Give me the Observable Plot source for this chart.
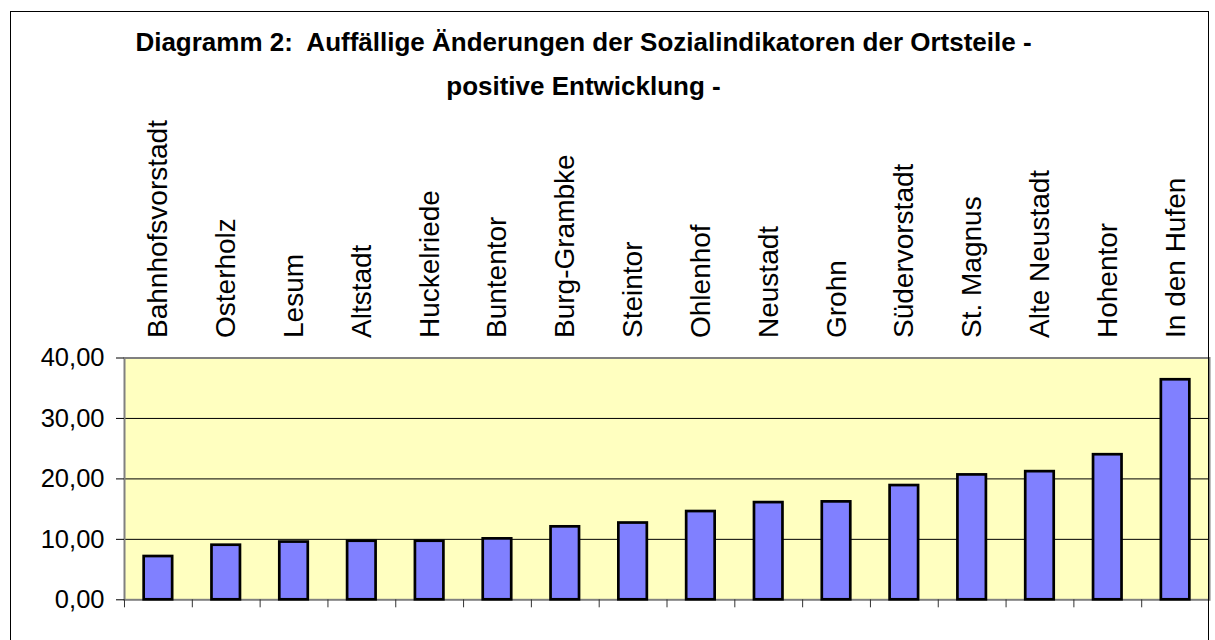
<!DOCTYPE html>
<html>
<head>
<meta charset="utf-8">
<script src="https://cdn.jsdelivr.net/npm/d3@7"></script>
<script src="https://cdn.jsdelivr.net/npm/@observablehq/plot@0.6"></script>
<style>
  html, body { margin: 0; padding: 0; background: #fff; overflow: hidden; }
  #wrap { position: relative; width: 1215px; height: 640px; overflow: hidden; font-family: "Liberation Sans", Arial, sans-serif; }
  #title { position: relative; width: 1215px; height: 110px; }
  .tline { position: absolute; left: 0; width: 1167px; text-align: center; font-size: 26px; font-weight: bold; line-height: 30px; white-space: pre; color: #000; }
  #border { position: absolute; left: 10px; top: 11px; width: 1197px; height: 700px; border: 1.5px solid #000; pointer-events: none; }
  #chart svg { display: block; }
</style>
</head>
<body>
<div id="wrap">
  <div id="title">
    <div class="tline" style="top:27px">Diagramm 2:  Auffällige Änderungen der Sozialindikatoren der Ortsteile -</div>
    <div class="tline" style="top:71px">positive Entwicklung -</div>
  </div>
  <div id="chart"></div>
  <div id="border"></div>
</div>
<script>
const categories = ["Bahnhofsvorstadt","Osterholz","Lesum","Altstadt","Huckelriede","Buntentor","Burg-Grambke","Steintor","Ohlenhof","Neustadt","Grohn","Südervorstadt","St. Magnus","Alte Neustadt","Hohentor","In den Hufen"];
const values = [7.16, 9.03, 9.55, 9.69, 9.69, 10.08, 12.07, 12.7, 14.6, 16.08, 16.2, 18.9, 20.66, 21.2, 24.0, 36.4];
const yTicks = [0, 10, 20, 30, 40];
const gridValues = [10, 20, 30];

const data = categories.map((name, i) => ({name, value: values[i]}));
const fmt = d => d.toFixed(2).replace(".", ",");

const W = 1215, mL = 124, mR = 6;
const step = (W - mL - mR) / categories.length;

const chart = Plot.plot({
  width: W,
  height: 530,
  marginTop: 247.5,
  marginBottom: 40.7,
  marginLeft: mL,
  marginRight: mR,
  style: { fontFamily: "'Liberation Sans', Arial, sans-serif", background: "transparent", color: "#000", overflow: "visible" },
  x: { domain: categories, paddingInner: 0.58, paddingOuter: 0.29, align: 0.5, round: false, label: null },
  y: { domain: [0, 40], label: null },
  marks: [
    Plot.frame({ fill: "#FFFFC0" }),
    Plot.ruleY(gridValues, { stroke: "#000", strokeWidth: 1 }),
    Plot.frame({ stroke: "#808080", strokeWidth: 2 }),
    Plot.barY(data, { x: "name", y: "value", fill: "#8080FF", stroke: "#000", strokeWidth: 2.7 }),
    Plot.axisY({ ticks: yTicks, tickFormat: fmt, tickSize: 8, tickPadding: 12, fontSize: 25.5, label: null }),
    Plot.axisX({ anchor: "top", tickRotate: -90, tickSize: 0, tickPadding: 20, fontSize: 28, label: null }),
    Plot.axisX({ anchor: "bottom", tickSize: 8, tickFormat: () => "", dx: -step / 2, label: null, stroke: "#333" })
  ]
});
document.getElementById("chart").appendChild(chart);
</script>
</body>
</html>
